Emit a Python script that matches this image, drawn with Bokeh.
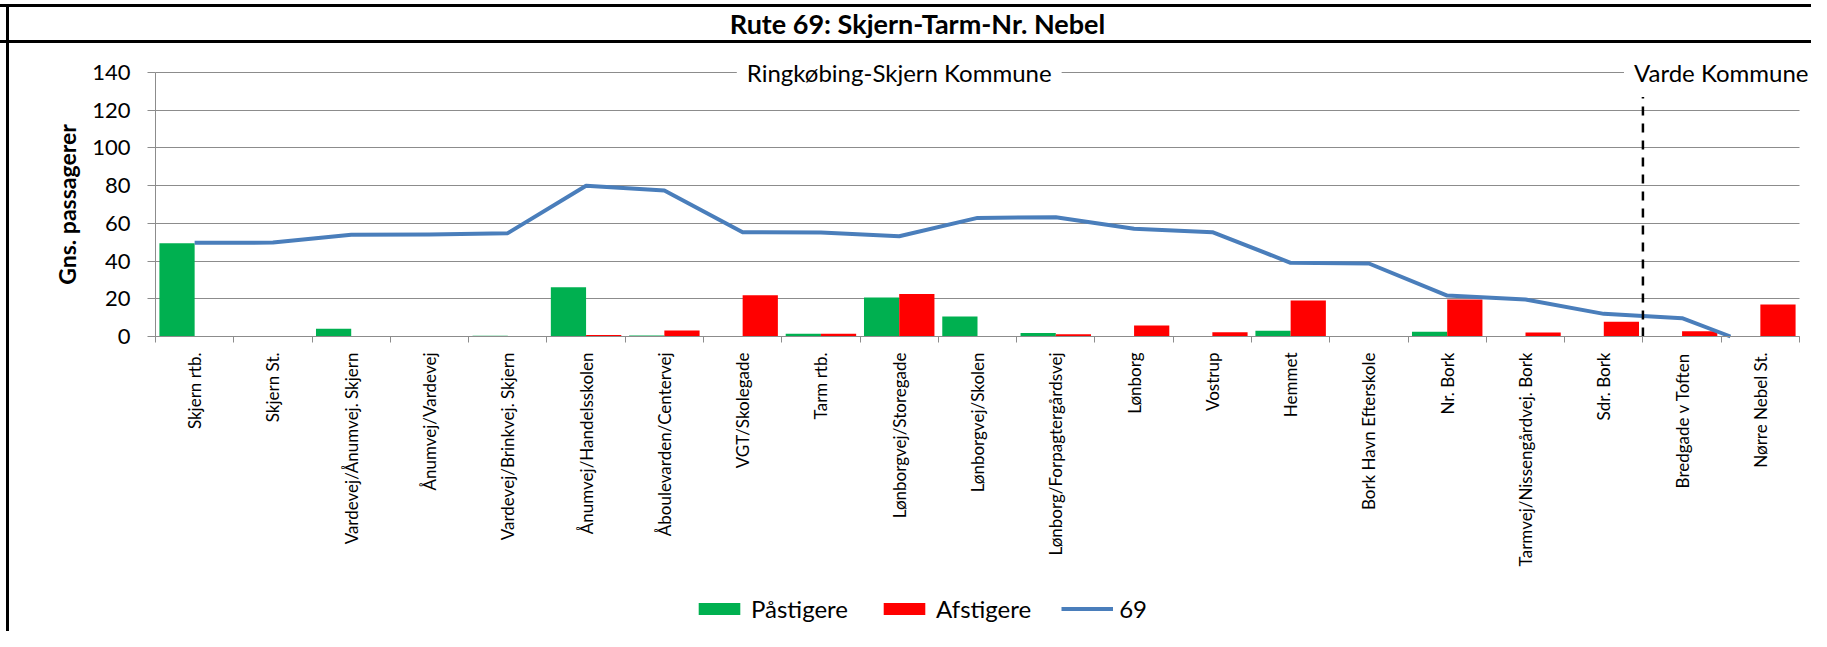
import numpy as np
from bokeh.plotting import figure
from bokeh.models import FixedTicker, Legend, LegendItem, Label
from bokeh.embed import file_html
from bokeh.resources import INLINE

# ---------------- data ----------------
title_text = "Rute 69: Skjern-Tarm-Nr. Nebel"
y_axis_title = "Gns. passagerer"
stops = ["Skjern rtb.", "Skjern St.", "Vardevej/Ånumvej. Skjern", "Ånumvej/Vardevej",
         "Vardevej/Brinkvej. Skjern", "Ånumvej/Handelsskolen", "Åboulevarden/Centervej",
         "VGT/Skolegade", "Tarm rtb.", "Lønborgvej/Storegade", "Lønborgvej/Skolen",
         "Lønborg/Forpagtergårdsvej", "Lønborg", "Vostrup", "Hemmet", "Bork Havn Efterskole",
         "Nr. Bork", "Tarmvej/Nissengårdvej. Bork", "Sdr. Bork", "Bredgade v Toften",
         "Nørre Nebel St."]
pastigere = [49.5, 0, 4.1, 0.3, 0.4, 26.1, 0.5, 0, 1.4, 20.7, 10.6, 1.8, 0, 0, 3.0, 0,
             2.5, 0.3, 0.3, 0, 0]
afstigere = [0, 0, 0, 0, 0, 0.8, 3.2, 21.9, 1.5, 22.6, 0.3, 1.2, 5.8, 2.3, 19.1, 0.3,
             19.6, 2.1, 7.8, 2.8, 17.0]
rute69 = [49.7, 49.8, 53.9, 54.1, 54.8, 79.9, 77.4, 55.3, 55.1, 53.2, 62.9, 63.2, 57.1,
          55.3, 39.1, 38.7, 21.7, 19.6, 12.0, 9.7, -6.0]
y_ticks = [0, 20, 40, 60, 80, 100, 120, 140]
kommuner = ["Ringkøbing-Skjern Kommune", "Varde Kommune"]
kommune_stops = [19, 2]
series_names = ["Påstigere", "Afstigere", "69"]

# ---------------- styles / layout ----------------
GREEN = "#00B050"
RED = "#FF0000"
BLUE = "#4A7EBB"
GRID = "#8C8C8C"
FONT = "Lato"

n = len(stops)
xc = np.arange(1, n + 1)
bar_w = 0.45

W, H = 1811, 631
AX_L, AX_R = 155, 1799          # pixel columns of the category axis ends
Y0, Y140 = 336, 72              # pixel rows of value 0 and value 140
cat_px = (AX_R - AX_L) / n
px_per_unit = (Y0 - Y140) / (y_ticks[-1] - y_ticks[0])
x_start = 0.5 - AX_L / cat_px
x_end = 0.5 + (W - AX_L) / cat_px
y_top = y_ticks[-1] + Y140 / px_per_unit
y_bot = y_ticks[0] - (H - Y0) / px_per_unit


def clip_at_floor(xs, ys, floor):
    """Cut the polyline where it drops below the axis minimum (as the chart does)."""
    ox, oy = [], []
    for i in range(len(xs)):
        if i > 0 and (ys[i - 1] - floor) * (ys[i] - floor) < 0:
            t = (floor - ys[i - 1]) / (ys[i] - ys[i - 1])
            ox.append(xs[i - 1] + t * (xs[i] - xs[i - 1]))
            oy.append(floor)
        if ys[i] >= floor:
            ox.append(xs[i])
            oy.append(ys[i])
        elif ox and not np.isnan(oy[-1]) and oy[-1] != floor:
            ox.append(np.nan)
            oy.append(np.nan)
    return ox, oy


p = figure(width=W, height=H, x_range=(x_start, x_end), y_range=(y_bot, y_top),
           output_backend="svg", toolbar_location=None,
           min_border_left=0, min_border_right=0, min_border_top=0, min_border_bottom=0)
p.outline_line_color = None
p.background_fill_color = None
p.border_fill_color = None
p.styles = {
    "background": ("linear-gradient(#000,#000) 0px 4px / 100% 3px no-repeat, "
                   "linear-gradient(#000,#000) 0px 40px / 100% 3px no-repeat, "
                   "linear-gradient(#000,#000) 6px 4px / 3px 100% no-repeat, #ffffff"),
}

gb = p.vbar(x=xc - bar_w / 2, top=pastigere, width=bar_w, fill_color=GREEN, line_color=None)
rb = p.vbar(x=xc + bar_w / 2, top=afstigere, width=bar_w, fill_color=RED, line_color=None)
lx, ly = clip_at_floor(list(xc.astype(float)), rute69, y_ticks[0])
ln = p.line(x=lx, y=ly, line_color=BLUE, line_width=4, line_join="round")

# municipality divider
boundary = kommune_stops[0] + 0.5
p.segment(x0=[boundary], y0=[y_ticks[0]], x1=[boundary], y1=[y_ticks[-1]],
          line_color="black", line_width=2.5, line_dash="9 8")

# x axis at value 0
xa = p.xaxis[0]
xa.fixed_location = y_ticks[0]
xa.bounds = (0.5, n + 0.5)
xa.ticker = FixedTicker(ticks=[float(v) for v in xc],
                        minor_ticks=[float(v) + 0.5 for v in range(0, n + 1)])
xa.major_label_overrides = {int(i): s for i, s in zip(xc, stops)}
xa.major_label_orientation = np.pi / 2
xa.major_tick_line_color = None
xa.major_tick_out = 0
xa.major_tick_in = 0
xa.minor_tick_line_color = GRID
xa.minor_tick_out = 6
xa.minor_tick_in = 0
xa.axis_line_color = GRID
xa.major_label_text_font = FONT
xa.major_label_text_font_size = "17px"
xa.major_label_text_color = "black"
xa.major_label_standoff = 10

# y axis at the first category edge
ya = p.yaxis[0]
ya.fixed_location = 0.5
ya.bounds = (y_ticks[0], y_ticks[-1])
ya.ticker = FixedTicker(ticks=y_ticks)
ya.major_label_text_font = FONT
ya.major_label_text_font_size = "22px"
ya.major_label_text_color = "black"
ya.major_label_standoff = 17
ya.major_tick_out = 8
ya.major_tick_in = 0
ya.major_tick_line_color = GRID
ya.minor_tick_line_color = None
ya.axis_line_color = GRID

p.xgrid.visible = False
p.ygrid.grid_line_color = GRID
try:
    p.ygrid.cross_bounds = (0.5, n + 0.5)
except Exception:
    pass

# y axis title, centred on the 0-140 axis
p.add_layout(Label(x=66, y=(y_ticks[0] + y_ticks[-1]) / 2, x_units="canvas", y_units="data",
                   text=y_axis_title, angle=np.pi / 2, text_align="center",
                   text_baseline="middle", text_font=FONT, text_font_style="bold",
                   text_font_size="23px", text_color="black"))

# municipality labels on the top line
start = 0.5
for name, cnt in zip(kommuner, kommune_stops):
    p.add_layout(Label(x=start + cnt / 2, y=y_ticks[-1], text=name, text_align="center",
                       text_baseline="middle", text_font=FONT, text_font_size="24px",
                       text_color="black", background_fill_color="white", padding=10))
    start += cnt

# chart title in the top band
p.add_layout(Label(x=917, y=23, x_units="canvas", y_units="canvas", text=title_text,
                   text_align="center", text_baseline="middle", text_font=FONT,
                   text_font_style="bold", text_font_size="27px", text_color="black"))

legend = Legend(items=[LegendItem(label=series_names[0], renderers=[gb]),
                       LegendItem(label=series_names[1], renderers=[rb]),
                       LegendItem(label=series_names[2], renderers=[ln])],
                orientation="horizontal", location=(693, 8),
                glyph_width=52, glyph_height=15, label_standoff=6, spacing=30,
                padding=0, margin=0, border_line_color=None, background_fill_alpha=0,
                label_text_font=FONT, label_text_font_size="24px", label_text_color="black")
p.add_layout(legend)

open("out.html", "w").write(file_html(p, INLINE))
